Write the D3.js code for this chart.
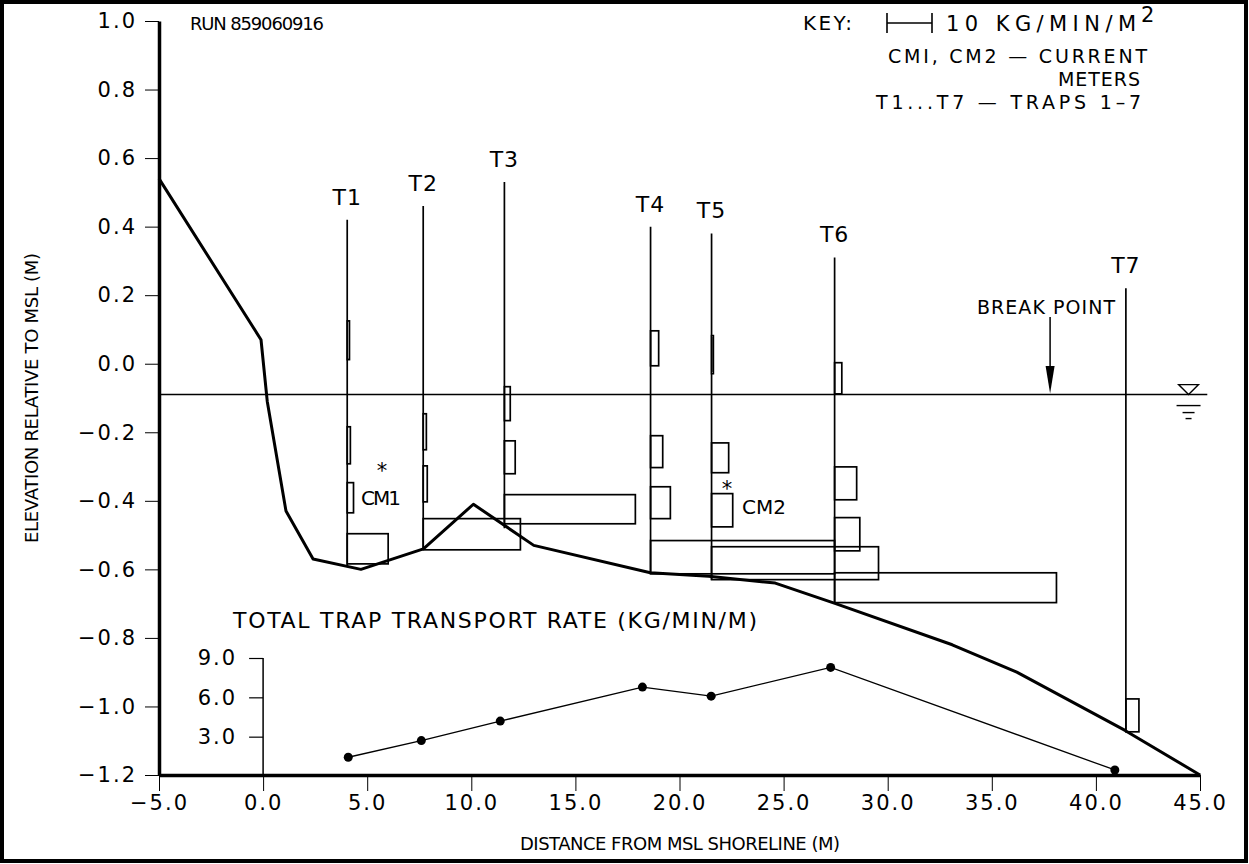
<!DOCTYPE html>
<html><head><meta charset="utf-8">
<script src="https://cdn.jsdelivr.net/npm/d3@7"></script>
<style>
body{margin:0;background:#fff}
svg{display:block}
text{font-family:'DejaVu Sans',sans-serif;fill:#000}
</style>
</head><body>
<svg id="c" width="1249" height="864"></svg>
<script>
// ---------- data ----------
const xTicks = [-5, 0, 5, 10, 15, 20, 25, 30, 35, 40, 45];
const yTicks = [-1.2, -1.0, -0.8, -0.6, -0.4, -0.2, 0.0, 0.2, 0.4, 0.6, 0.8, 1.0];
const insetTicks = [3, 6, 9];

// beach profile
const profileX = [-5.0, -0.1, 0.2, 1.1, 2.4, 4.7, 7.7, 10.1, 13.0, 18.6, 21.4, 24.6, 27.5, 33.1, 36.2, 41.4, 45.0];
const profileY = [0.54, 0.07, -0.11, -0.43, -0.57, -0.60, -0.54, -0.41, -0.53, -0.61, -0.62, -0.64, -0.70, -0.82, -0.90, -1.07, -1.20];

// traps
const trapNames = ["T1", "T2", "T3", "T4", "T5", "T6", "T7"];
const trapX = [4.04, 7.69, 11.59, 18.61, 21.54, 27.45, 41.44];
const trapTop = [0.42, 0.46, 0.53, 0.40, 0.38, 0.31, 0.22];
const trapBottom = [-0.59, -0.54, -0.48, -0.61, -0.63, -0.70, -1.07];

// trap bins (transport rate per unit area, KG/MIN/M^2)
const binTrap = [0, 0, 0, 0, 1, 1, 1, 2, 2, 2, 3, 3, 3, 3, 4, 4, 4, 4, 5, 5, 5, 5, 6];
const binTop = [0.125, -0.184, -0.347, -0.496, -0.146, -0.298, -0.452, -0.067, -0.225, -0.382, 0.096, -0.210, -0.359, -0.516, 0.082, -0.231, -0.379, -0.534, 0.003, -0.301, -0.449, -0.610, -0.978];
const binBottom = [0.012, -0.292, -0.435, -0.584, -0.251, -0.403, -0.543, -0.166, -0.321, -0.467, -0.006, -0.303, -0.452, -0.613, -0.029, -0.318, -0.476, -0.630, -0.088, -0.397, -0.546, -0.697, -1.074];
const binRate = [0.5, 0.7, 1.4, 9.1, 0.7, 0.9, 21.6, 1.3, 2.4, 29.1, 1.8, 2.7, 4.4, 40.9, 0.4, 3.8, 4.7, 37.1, 1.6, 4.9, 5.6, 49.3, 2.9];

// total trap transport rate (KG/MIN/M)
const totalX = [4.09, 7.60, 11.39, 18.22, 21.52, 27.26, 40.91];
const totalRate = [1.43, 2.70, 4.19, 6.78, 6.09, 8.28, 0.46];

const waterLevel = -0.09;
const breakPointX = 37.8;
const keyRate = 10;

// ---------- scales ----------
const svg = d3.select("#c");
const x = d3.scaleLinear().domain([-5, 45]).range([159, 1200]);
const y = d3.scaleLinear().domain([-1.2, 1.0]).range([775, 21]);
const rateW = d3.scaleLinear().domain([0, 10]).range([0, 45]);
const yIn = d3.scaleLinear().domain([0, 9]).range([776, 658]);

const COND = "'DejaVu Sans Condensed','DejaVu Sans',sans-serif";
const WIDE = "'DejaVu Sans',sans-serif";

// frame
svg.append("rect").attr("x", 2).attr("y", 2).attr("width", 1244).attr("height", 859)
  .attr("fill", "none").attr("stroke", "#000").attr("stroke-width", 4);

function styleTicks(g) {
  g.selectAll(".tick text").attr("font-size", 21).attr("font-family", COND).attr("letter-spacing", 2);
}
function label(xp, yp, str, size, len, fam) {
  const t = svg.append("text").attr("x", xp).attr("y", yp).attr("font-size", size)
    .attr("font-family", fam || WIDE).text(str);
  if (len) t.attr("textLength", len).attr("lengthAdjust", "spacing");
  return t;
}

// ---------- axes ----------
const fmt = d3.format(".1f");
const yAxis = svg.append("g").attr("transform", `translate(${x(-5)},0)`)
  .call(d3.axisLeft(y).tickValues(yTicks).tickFormat(fmt).tickSize(14).tickSizeOuter(0).tickPadding(8));
yAxis.select(".domain").attr("stroke-width", 3.5);
yAxis.selectAll(".tick line").attr("stroke-width", 1);
styleTicks(yAxis);

const xAxis = svg.append("g").attr("transform", `translate(0,${y(-1.2)})`)
  .call(d3.axisBottom(x).tickValues(xTicks).tickFormat(fmt).tickSize(16).tickSizeOuter(0).tickPadding(4));
xAxis.select(".domain").attr("stroke-width", 3.5);
xAxis.selectAll(".tick line").attr("stroke-width", 1);
styleTicks(xAxis);

svg.append("text").attr("transform", `translate(38,${(y(1.0) + y(-1.2)) / 2}) rotate(-90)`)
  .attr("text-anchor", "middle").attr("font-size", 18).attr("font-family", COND)
  .attr("textLength", 290).attr("lengthAdjust", "spacing")
  .text("ELEVATION RELATIVE TO MSL (M)");
svg.append("text").attr("x", 680).attr("y", 850).attr("text-anchor", "middle").attr("font-size", 18).attr("font-family", COND)
  .attr("textLength", 320).attr("lengthAdjust", "spacing")
  .text("DISTANCE FROM MSL SHORELINE (M)");

// ---------- water line ----------
svg.append("line").attr("x1", x(-5)).attr("x2", x(45.35)).attr("y1", y(waterLevel)).attr("y2", y(waterLevel))
  .attr("stroke", "#000").attr("stroke-width", 1.6);
const wx = x(44.45), wy = y(waterLevel);
svg.append("path").attr("d", `M${wx - 10},${wy - 10} L${wx + 10},${wy - 10} L${wx},${wy} Z`)
  .attr("fill", "none").attr("stroke", "#000").attr("stroke-width", 1.3);
[[11, 12], [18, 6], [24, 3]].forEach(([dy, hw]) => {
  svg.append("line").attr("x1", wx - hw).attr("x2", wx + hw).attr("y1", wy + dy).attr("y2", wy + dy)
    .attr("stroke", "#000").attr("stroke-width", 1.4);
});

// break point arrow
const bx = x(breakPointX);
svg.append("line").attr("x1", bx).attr("x2", bx).attr("y1", 317).attr("y2", 370).attr("stroke", "#000").attr("stroke-width", 1.5);
svg.append("path").attr("d", `M${bx - 4.5},${366} L${bx + 4.5},${366} L${bx},${wy - 1} Z`).attr("fill", "#000");
label(977, 314, "BREAK  POINT", 19, 138, COND);

// ---------- traps ----------
svg.selectAll(".trap").data(trapNames).join("line")
  .attr("x1", (d, i) => x(trapX[i])).attr("x2", (d, i) => x(trapX[i]))
  .attr("y1", (d, i) => y(trapTop[i])).attr("y2", (d, i) => y(trapBottom[i]))
  .attr("stroke", "#000").attr("stroke-width", 1.7);
svg.selectAll(".tlab").data(trapNames).join("text")
  .attr("x", (d, i) => x(trapX[i])).attr("y", (d, i) => y(trapTop[i]) - 15)
  .attr("text-anchor", "middle").attr("font-size", 22).attr("font-family", COND).attr("letter-spacing", 1).text(d => d);

// bins
svg.selectAll(".bin").data(binRate).join("rect")
  .attr("x", (d, i) => x(trapX[binTrap[i]]))
  .attr("y", (d, i) => y(binTop[i]))
  .attr("width", d => rateW(d))
  .attr("height", (d, i) => y(binBottom[i]) - y(binTop[i]))
  .attr("fill", "none").attr("stroke", "#000").attr("stroke-width", 1.7);

// profile
svg.append("path").datum(profileX.map((d, i) => [d, profileY[i]]))
  .attr("d", d3.line().x(d => x(d[0])).y(d => y(d[1])))
  .attr("fill", "none").attr("stroke", "#000").attr("stroke-width", 3).attr("stroke-linejoin", "round");

// current meters
label(382, 478, "*", 21, null, "'Liberation Sans',sans-serif").attr("text-anchor", "middle");
label(361, 505, "CM1", 20, 40, COND);
label(727, 496, "*", 21, null, "'Liberation Sans',sans-serif").attr("text-anchor", "middle");
label(742, 514, "CM2", 20, 44, COND);

// ---------- header texts ----------
label(190, 30, "RUN 859060916", 18, 134, COND);
label(803, 30, "KEY:", 20, 49, WIDE);
const kx = 887, ky = 23;
svg.append("line").attr("x1", kx).attr("x2", kx + rateW(keyRate)).attr("y1", ky).attr("y2", ky).attr("stroke", "#000").attr("stroke-width", 1.6);
[kx, kx + rateW(keyRate)].forEach(v => svg.append("line").attr("x1", v).attr("x2", v).attr("y1", ky - 10).attr("y2", ky + 10).attr("stroke", "#000").attr("stroke-width", 1.6));
label(946, 31, "10  KG/MIN/M", 21, 190, WIDE);
label(1141, 22, "2", 21, null, WIDE);
label(888, 63, "CMI,  CM2  —  CURRENT", 19, 259, WIDE);
label(1058, 86, "METERS", 19, 82, WIDE);
label(876, 109, "T1...T7  —  TRAPS  1–7", 19, 265, WIDE);

// ---------- inset: total trap transport rate ----------
label(233, 628, "TOTAL TRAP TRANSPORT RATE (KG/MIN/M)", 22, 524, WIDE);
const inAxis = svg.append("g").attr("transform", `translate(${x(0)},0)`)
  .call(d3.axisLeft(yIn).tickValues(insetTicks).tickFormat(fmt).tickSize(14).tickSizeOuter(0).tickPadding(12));
inAxis.select(".domain").attr("stroke-width", 1.5).attr("d", `M0,${yIn(9)}V${y(-1.2)}`);
inAxis.selectAll(".tick line").attr("stroke-width", 1.2);
styleTicks(inAxis);

svg.append("path").datum(totalX.map((d, i) => [d, totalRate[i]]))
  .attr("d", d3.line().x(d => x(d[0])).y(d => yIn(d[1])))
  .attr("fill", "none").attr("stroke", "#000").attr("stroke-width", 1.3);
svg.selectAll(".dot").data(totalRate).join("circle")
  .attr("cx", (d, i) => x(totalX[i])).attr("cy", d => yIn(d)).attr("r", 4.5).attr("fill", "#000");
</script>
</body></html>
